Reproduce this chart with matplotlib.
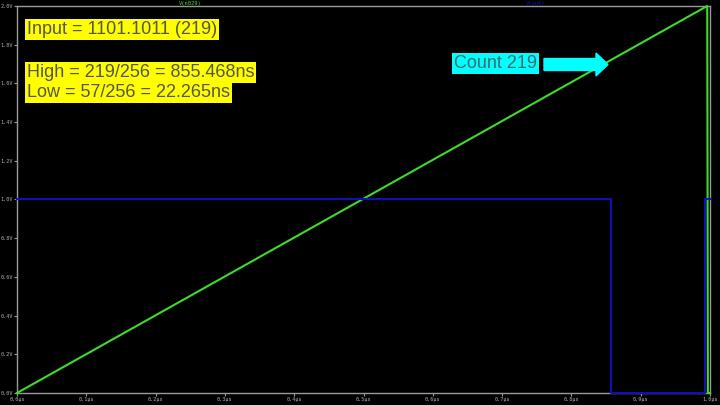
import matplotlib
matplotlib.use("Agg")
import matplotlib.pyplot as plt
from matplotlib.patches import FancyArrow

# waveform data (time in µs, voltage in V)
ramp_t = [0.0, 0.996, 0.997, 1.0]
ramp_v = [0.0, 2.0, 0.0, 0.0]

out_t = [0.0, 0.857, 0.857, 0.993, 0.993, 1.0]
out_v = [1.0, 1.0, 0.0, 0.0, 1.0, 1.0]

x_ticks = [0.0, 0.1, 0.2, 0.3, 0.4, 0.5, 0.6, 0.7, 0.8, 0.9, 1.0]
y_ticks = [0.0, 0.2, 0.4, 0.6, 0.8, 1.0, 1.2, 1.4, 1.6, 1.8, 2.0]

trace_names = ["V(n029)", "V(out)"]
trace_colors = ["#3cdc28", "#1010b8"]

note_input = "Input = 1101.1011 (219)"
note_high = "High = 219/256 = 855.468ns"
note_low = "Low = 57/256 = 22.265ns"
note_count = "Count 219"

fig = plt.figure(figsize=(7.2, 4.05), dpi=100, facecolor="black")
ax = fig.add_axes([17 / 720, 12 / 405, 693 / 720, 387 / 405])
ax.set_facecolor("black")

ax.plot(ramp_t, ramp_v, color=trace_colors[0], lw=1.5, zorder=3, clip_on=False)
ax.plot(out_t, out_v, color=trace_colors[1], lw=1.5, zorder=3, clip_on=False)

ax.set_xlim(0, 1.0)
ax.set_ylim(0, 2.0)

ax.set_xticks(x_ticks)
ax.set_xticklabels([f"{v:.1f}µs" for v in x_ticks])
ax.set_yticks(y_ticks)
ax.set_yticklabels([f"{v:.1f}V" for v in y_ticks])

for sp in ax.spines.values():
    sp.set_color("#9a9a9a")
    sp.set_linewidth(1.0)

ax.tick_params(colors="#9a9a9a", labelcolor="#b4b4b4", length=2.2, width=0.8,
               labelsize=3.7, pad=0.6)
for lab in ax.get_xticklabels() + ax.get_yticklabels():
    lab.set_family("DejaVu Sans Mono")

# trace names above the plot
fig.text(190 / 720, 1 - 4 / 405, trace_names[0], color=trace_colors[0],
         fontsize=4.0, family="DejaVu Sans Mono", ha="center", va="center")
fig.text(536 / 720, 1 - 4 / 405, trace_names[1], color=trace_colors[1],
         fontsize=4.0, family="DejaVu Sans Mono", ha="center", va="center")

# annotation boxes
box_font = dict(family="Liberation Sans", fontsize=13, color="#555548")
fig.text(27 / 720, 1 - 34 / 405, note_input, ha="left", va="baseline",
         bbox=dict(boxstyle="square,pad=0.1", fc="#ffff00", ec="none"), **box_font)
fig.text(27 / 720, 1 - 77 / 405, note_high, ha="left", va="baseline",
         bbox=dict(boxstyle="square,pad=0.1", fc="#ffff00", ec="none"), **box_font)
fig.text(27 / 720, 1 - 97 / 405, note_low, ha="left", va="baseline",
         bbox=dict(boxstyle="square,pad=0.1", fc="#ffff00", ec="none"), **box_font)
fig.text(454 / 720, 1 - 68 / 405, note_count, ha="left", va="baseline",
         bbox=dict(boxstyle="square,pad=0.1", fc="#00ffff", ec="none"),
         family="Liberation Sans", fontsize=13, color="#3a6e70")

arrow = FancyArrow(5.44, 4.05 - 0.645, 0.64, 0, width=0.12, head_width=0.23,
                   head_length=0.12, length_includes_head=True,
                   color="#00ffff", transform=fig.dpi_scale_trans)
fig.patches.append(arrow)

plt.savefig("out.png", dpi=100, facecolor="black")
